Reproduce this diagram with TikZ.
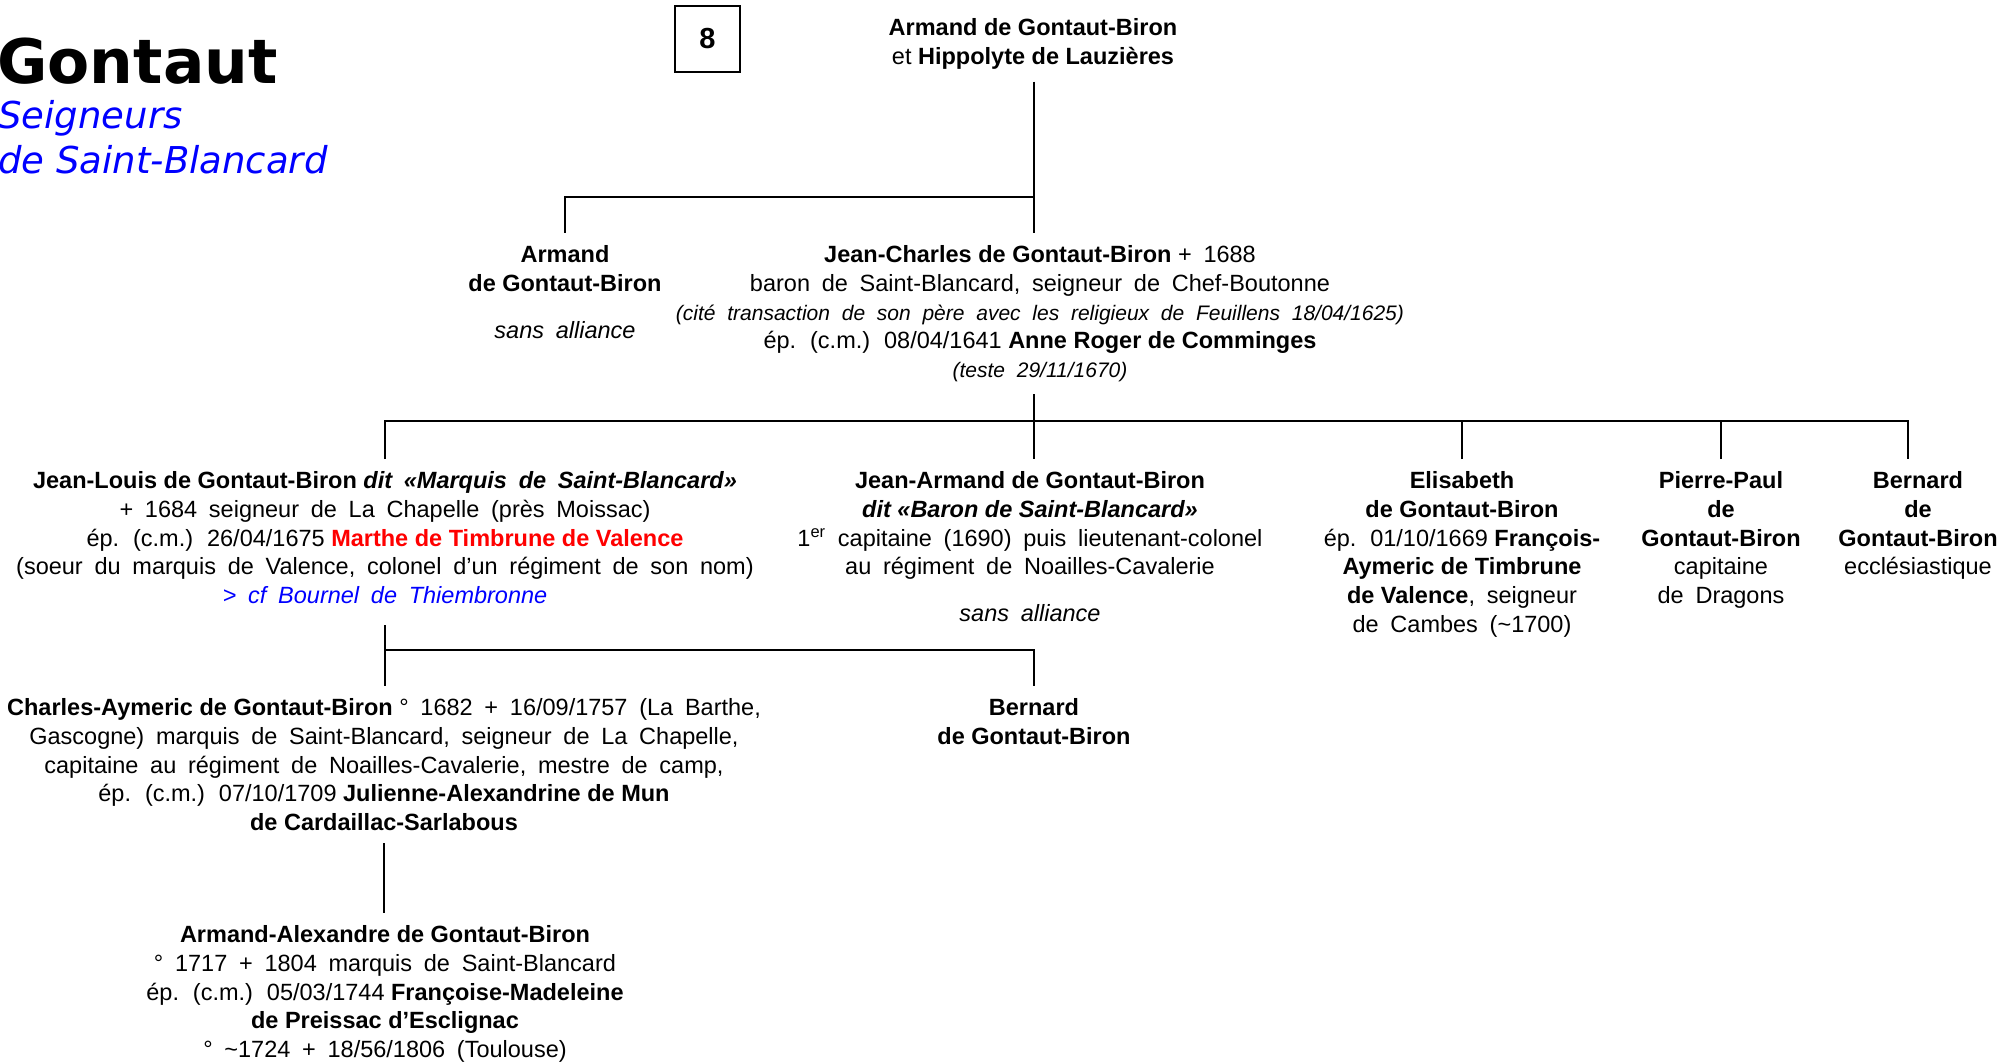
\documentclass[tikz,border=0pt]{standalone}
\usepackage{fontspec}
\setmainfont{Liberation Sans}
\newfontfamily\titlefont{DejaVu Sans}
\usepackage{xcolor}
\usepackage{tikz}
\definecolor{linkblue}{RGB}{0,0,255}
\definecolor{wifered}{RGB}{255,0,0}
\newcommand\nm[1]{{\bfseries\spaceskip=0pt\relax #1}}
\newcommand\nt[1]{{\fontsize{10.5}{13}\selectfont\itshape #1}}
\newcommand\widespace{\spaceskip=0.5em\relax}

\begin{document}
\begin{tikzpicture}[x=0.5pt,y=-0.5pt]
	\tikzset{person/.style={anchor=north, align=center, inner xsep=0pt, inner ysep=6pt, font=\fontsize{11.75}{14.4}\selectfont, execute at begin node=\widespace}}
	\tikzset{link/.style={line width=1.3pt}}
	\useasboundingbox (0,0) rectangle (2015,1064);
	\node[anchor=base west, inner sep=0pt, font=\fontsize{30.7}{36}\titlefont\bfseries] (title) at (-3,84) {Gontaut};
	\node[anchor=north west, align=left, inner sep=0pt, text=linkblue, font=\fontsize{18.5}{22.5}\titlefont\itshape] (sub) at (-2,100) {Seigneurs\\de Saint-Blancard};
	\node[draw, line width=0.6pt, minimum width=32.5pt, minimum height=33pt, inner sep=0pt, font=\fontsize{14.5}{16}\selectfont\bfseries] (num) at (707.5,39) {\raisebox{-3pt}{8}};
	\node[person] (couple) at (1033,6) {\nm{Armand de Gontaut-Biron}\\et\nm{ Hippolyte de Lauzières}};
	\node[person] (armand) at (565,233) {\nm{Armand}\\\nm{de Gontaut-Biron}\\[9pt]\textit{sans alliance}};
	\node[person] (jc) at (1040,233) {\nm{Jean-Charles de Gontaut-Biron }+ 1688\\baron de Saint-Blancard, seigneur de Chef-Boutonne\\\nt{(cité transaction de son père avec les religieux de Feuillens 18/04/1625)}\\ép. (c.m.) 08/04/1641\nm{ Anne Roger de Comminges}\\\nt{(teste 29/11/1670)}};
	\node[person] (jl) at (385,459) {\nm{Jean-Louis de Gontaut-Biron }\textbf{\textit{dit «Marquis de Saint-Blancard»}}\\+ 1684 seigneur de La Chapelle (près Moissac)\\ép. (c.m.) 26/04/1675\textcolor{wifered}{\nm{ Marthe de Timbrune de Valence}}\\(soeur du marquis de Valence, colonel d’un régiment de son nom)\\\textcolor{linkblue}{\itshape > cf Bournel de Thiembronne}};
	\node[person] (ja) at (1030,459) {\nm{Jean-Armand de Gontaut-Biron}\\\nm{\itshape dit «Baron de Saint-Blancard»}\\1\textsuperscript{er} capitaine (1690) puis lieutenant-colonel\\au régiment de Noailles-Cavalerie\\[9pt]\textit{sans alliance}};
	\node[person] (elis) at (1462,459) {\nm{Elisabeth}\\\nm{de Gontaut-Biron}\\ép. 01/10/1669\nm{ François-}\\\nm{Aymeric de Timbrune}\\\nm{de Valence}, seigneur\\de Cambes (\textasciitilde1700)};
	\node[person] (pp) at (1721,459) {\nm{Pierre-Paul}\\\nm{de}\\\nm{Gontaut-Biron}\\capitaine\\de Dragons};
	\node[person] (bern) at (1918,459) {\nm{Bernard}\\\nm{de}\\\nm{Gontaut-Biron}\\ecclésiastique};
	\node[person] (ca) at (384,686) {\nm{Charles-Aymeric de Gontaut-Biron }° 1682 + 16/09/1757 (La Barthe,\\Gascogne) marquis de Saint-Blancard, seigneur de La Chapelle,\\capitaine au régiment de Noailles-Cavalerie, mestre de camp,\\ép. (c.m.) 07/10/1709\nm{ Julienne-Alexandrine de Mun}\\\nm{de Cardaillac-Sarlabous}};
	\node[person] (bern2) at (1034,686) {\nm{Bernard}\\\nm{de Gontaut-Biron}};
	\node[person] (aa) at (385,913) {\nm{Armand-Alexandre de Gontaut-Biron}\\° 1717 + 1804 marquis de Saint-Blancard\\ép. (c.m.) 05/03/1744\nm{ Françoise-Madeleine}\\\nm{de Preissac d’Esclignac}\\° \textasciitilde1724 + 18/56/1806 (Toulouse)};
	\coordinate (bar1) at (1034,197);
	\coordinate (bar2) at (1034,421);
	\coordinate (bar3) at (1034,650);
	\draw[link] (couple.south -| bar1) -- (jc.north -| bar1);
	\draw[link] (armand.north) |- (bar1);
	\draw[link] (jc.south -| bar2) -- (ja.north -| bar2);
	\draw[link] (jl.north) |- (bar2) -| ([xshift=-5pt]bern.north);
	\draw[link] (elis.north) -- (elis.north |- bar2);
	\draw[link] (pp.north) -- (pp.north |- bar2);
	\draw[link, shorten <=4.5pt] (jl.south) -- (jl.south |- ca.north);
	\draw[link] (jl.south |- bar3) -| (bern2.north);
	\draw[link] (ca.south) -- (ca.south |- aa.north);
\end{tikzpicture}
\end{document}
